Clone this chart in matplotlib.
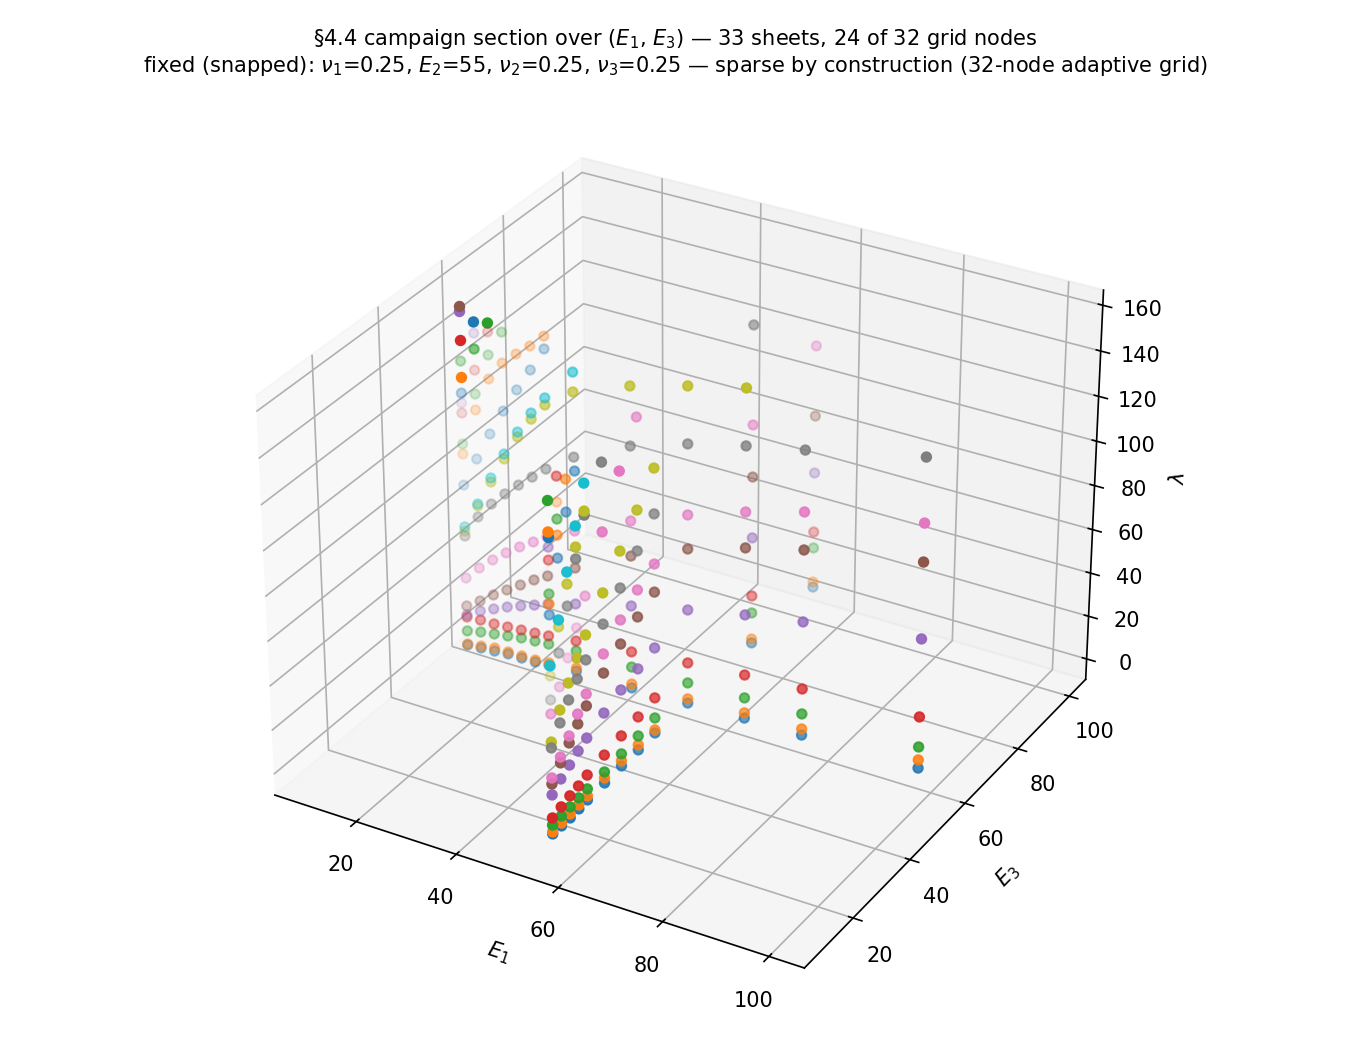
"""Section of the eigenvalue sheets over (E1, E3), one scatter per sheet."""

import matplotlib
matplotlib.use("Agg")
import matplotlib.pyplot as plt
from matplotlib.colors import to_rgba
import numpy as np

row_e1 = [10, 12.8125, 15.625, 18.4375, 21.25, 24.0625, 26.875, 32.5, 43.75, 55, 66.25, 77.5, 100]
row_e3 = [10, 12.8125, 15.625, 18.4375, 21.25, 26.875, 32.5, 38.125, 43.75, 77.5, 100]

e1_nodes = row_e1 + [55] * len(row_e3)
e3_nodes = [55] * len(row_e1) + row_e3

n = None
sheets = [
    [1.6, 2.1, 2.6, 3.2, 3.2, 3.3, 3.8, 4.9, 4.9, 5.8, 6.8, 7.0, 8.1, 2.4, 2.4, 2.4, 2.9, 3.4, 4.0, 4.7, 5.0, 5.8, 6.7, 6.6],
    [2.0, 3.0, 4.0, 4.1, 4.2, 4.2, 4.8, 6.3, 6.7, 7.7, 9.2, 9.8, 11.8, 3.3, 3.7, 4.2, 4.7, 5.2, 6.3, 7.0, 7.3, 7.2, 8.5, 9.0],
    [8.2, 9.6, 10.6, 11.6, 12.6, 13.1, 13.6, 14.3, 14.6, 15.1, 16.1, 16.7, 17.7, 6.4, 6.9, 7.4, 7.9, 8.4, 9.0, 10.2, 11.4, 12.7, 20.7, 25.1],
    [14.7, 15.2, 15.3, 15.8, 16.3, 16.8, 17.4, 18.9, 21.6, 24.3, 26.6, 28.1, 31.3, 9.6, 11.0, 12.4, 13.3, 14.7, 16.7, 18.4, 20.1, 21.9, 28.6, 32.6],
    [15.7, 19.4, 22.3, 25.1, 27.5, 29.8, 32.2, 36.0, 42.7, 48.5, 53.9, 58.4, 66.2, 20.0, 23.6, 26.3, 29.1, 31.4, 35.7, 39.2, 41.9, 44.6, 55.4, 60.1],
    [19.9, 24.1, 28.8, 33.0, 37.2, 41.4, 45.1, 52.5, 65.4, 76.0, 83.9, 90.4, 100.0, 24.9, 30.8, 36.2, 41.2, 45.8, 53.6, 59.8, 65.2, 69.7, 83.1, 86.3],
    [32.9, 39.4, 45.0, 50.1, 54.7, 58.8, 62.9, 69.3, 81.2, 91.2, 99.8, 107.1, 116.9, 27.6, 33.4, 39.3, 45.6, 51.1, 62.1, 70.5, 77.2, 82.2, 106.5, 118.1],
    [52.3, 62.9, 70.6, 77.0, 82.8, 88.2, 93.6, 102.5, 114.5, 122.5, 128.7, 134.0, 145.2, 41.0, 48.6, 55.3, 61.2, 66.2, 75.3, 84.6, 94.4, 104.3, 150.7, n],
    [54.6, 67.9, 80.6, 92.8, 104.4, 114.1, 122.1, 131.3, 140.8, 147.7, 153.7, n, n, 43.6, 54.3, 62.8, 70.4, 77.2, 89.0, 100.8, 112.3, 124.3, n, n],
    [56.5, 68.8, 82.4, 95.0, 106.6, 116.8, 125.2, 140.0, n, n, n, n, n, 77.1, 93.7, 111.1, 127.6, 142.7, n, n, n, n, n, n],
    [75.6, 89.2, 102.2, 114.2, 125.3, 135.8, 146.7, n, n, n, n, n, n, 99.2, 120.3, 136.7, 150.9, n, n, n, n, n, n, n],
    [89.7, 111.2, 126.7, 135.4, 141.1, 146.3, 152.3, n, n, n, n, n, n, 103.9, 130.1, 150.6, n, n, n, n, n, n, n, n],
    [94.2, 118.3, 137.3, 149.0, n, n, n, n, n, n, n, n, n, 108.2, 136.9, n, n, n, n, n, n, n, n, n],
    [108.1, 128.9, 147.4, n, n, n, n, n, n, n, n, n, n, 122.7, 155.0, n, n, n, n, n, n, n, n, n],
    [112.6, 145.2, n, n, n, n, n, n, n, n, n, n, n, 128.2, n, n, n, n, n, n, n, n, n, n],
    [n] * 24,
    [n, n, n, n, n, n, n, n, n, n, n, n, n, 56.0, 64.5, 73.8, 83.6, 94.2, 115.5, 135.4, 152.4, n, n, n],
    [n, n, n, n, n, n, n, n, n, n, n, n, n, 62.2, 79.3, 96.4, 113.5, 129.1, 145.4, n, n, n, n, n],
    [n, n, n, n, n, n, n, n, n, n, n, n, n, 72.7, 90.7, 105.9, 118.6, 130.8, n, n, n, n, n, n],
    [n] * 24,
    [117.0, 150.1] + [n] * 22,
    [124.1] + [n] * 23,
    [131.2, 138.2, 151.3] + [n] * 21,
    [140.5] + [n] * 23,
    [153.2] + [n] * 23,
    [155.4] + [n] * 23,
    [n] * 24,
    [n] * 24,
    [n] * 24,
    [n] * 24,
    [n] * 13 + [132.5] + [n] * 10,
    [n] * 13 + [134.6, 144.1] + [n] * 9,
    [n] * 13 + [148.1] + [n] * 10,
]

faded_sheets = {10: 0.55, 11: 0.6, 12: 0.55, 13: 0.5, 14: 0.45}


def main():
    fig = plt.figure(figsize=(9, 7), dpi=150)
    ax = fig.add_subplot(projection="3d")
    e1 = np.array(e1_nodes, dtype=float)
    e3 = np.array(e3_nodes, dtype=float)
    for k, sheet in enumerate(sheets):
        lam = np.array(sheet, dtype=float)
        mask = ~np.isnan(lam)
        if mask.any():
            colour = to_rgba(f"C{k % 10}", faded_sheets.get(k, 1.0))
            ax.scatter(e1[mask], e3[mask], lam[mask], color=colour, s=20)
    ax.set_xlabel(r"$E_1$")
    ax.set_ylabel(r"$E_3$")
    ax.set_zlabel(r"$\lambda$")
    ax.set_title(
        "§4.4 campaign section over ($E_1$, $E_3$) — 33 sheets, 24 of 32 grid nodes\n"
        r"fixed (snapped): $\nu_1$=0.25, $E_2$=55, $\nu_2$=0.25, $\nu_3$=0.25"
        " — sparse by construction (32-node adaptive grid)",
        fontsize=10,
    )
    fig.tight_layout(rect=(0, 0, 1, 0.996))
    fig.savefig("out.png", dpi=150)


if __name__ == "__main__":
    main()
